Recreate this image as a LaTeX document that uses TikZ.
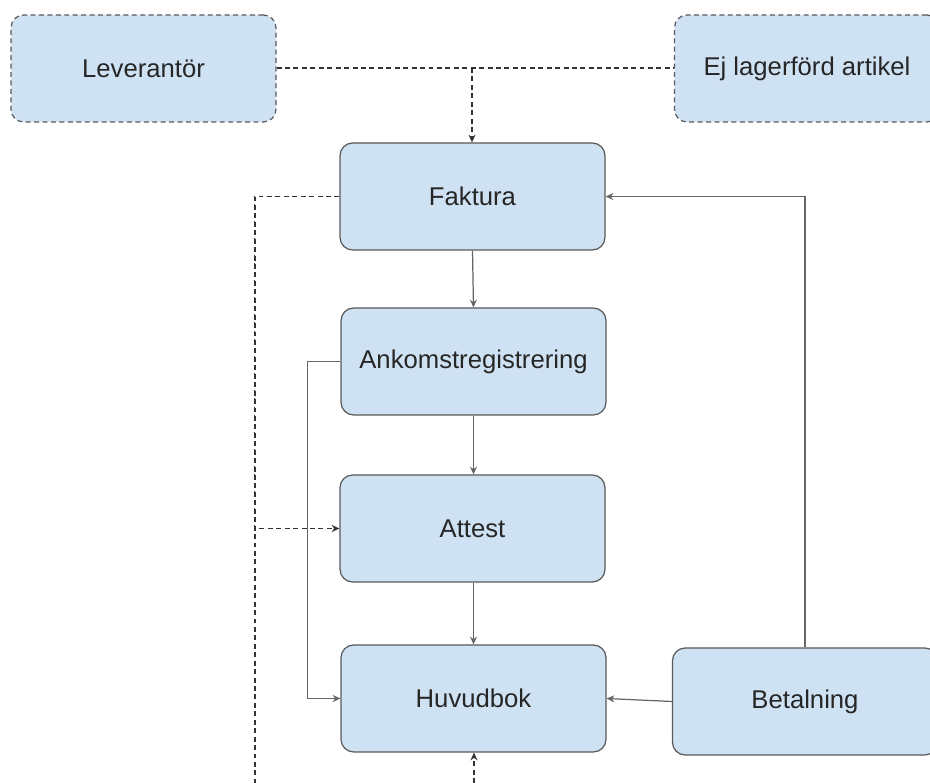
\documentclass[tikz,border=0pt]{standalone}
\usepackage{fontspec}
\setmainfont{Liberation Sans}
\usetikzlibrary{arrows.meta}
\definecolor{boxfill}{HTML}{CFE2F3}
\definecolor{boxline}{HTML}{595959}
\begin{document}
\begin{tikzpicture}[x=0.01cm,y=-0.01cm,
  box/.style={draw=boxline,fill=boxfill,rounded corners=12\pgflinewidth,line width=0.35pt,
    minimum width=265*0.01cm,minimum height=107*0.01cm,inner sep=0pt,
    font=\fontsize{7.3}{9}\selectfont,text=black!85},
  boxsolid/.style={box,rounded corners=3.6pt},
  boxdash/.style={box,rounded corners=3.6pt,dash pattern=on 1.4pt off 1pt},
  link/.style={draw=black!60,line width=0.35pt,-{Stealth[length=2.2pt,width=2pt]}},
  dlink/.style={draw=black!80,line width=0.35pt,dash pattern=on 1.4pt off 1pt,-{Stealth[length=2.2pt,width=2pt]}},
  dline/.style={draw=black!80,line width=0.35pt,dash pattern=on 1.4pt off 1pt}]
\useasboundingbox (0,0) rectangle (930,783);
\begin{scope}
\clip (0,0) rectangle (930,783);
\node[boxdash] (lev) at (143.5,68.5) {Leverantör};
\node[boxdash] (ej) at (807,68.5) {Ej lagerförd artikel};
\node[boxsolid] (fak) at (472.5,196.5) {Faktura};
\node[boxsolid] (ank) at (473.5,361.5) {Ankomstregistrering};
\node[boxsolid] (att) at (472.5,528.5) {Attest};
\node[boxsolid] (huv) at (473.5,698.5) {Huvudbok};
\node[boxsolid] (bet) at (805,701.5) {Betalning};

\coordinate (top) at (472,68);
\coordinate (lowleft) at (255,783);
\coordinate (lowmid) at (474,783);

% supplier and non-stock item feed the invoice
\draw[dline] (lev.east |- top) -- (ej.west |- top);
\draw[dlink] (top) -- (fak.north -| top);

% invoice side channels
\draw[dline] (fak.west) -| (lowleft);
\draw[dlink] (fak.west) -- ++(-85,0) |- (att.west);

% main chain
\draw[link] (fak.south) -- (ank.north);
\draw[link] (ank.south) -- (att.north -| ank.south);
\draw[link] (att.south -| ank.south) -- (huv.north);
\draw[link] (ank.west) -- ++(-33,0) |- (huv.west);

% payment
\draw[link] (bet.west) -- (huv.east);
\draw[link] (bet.north) |- (fak.east);

\draw[dlink] (lowmid) -- (huv.south -| lowmid);
\end{scope}
\end{tikzpicture}
\end{document}
